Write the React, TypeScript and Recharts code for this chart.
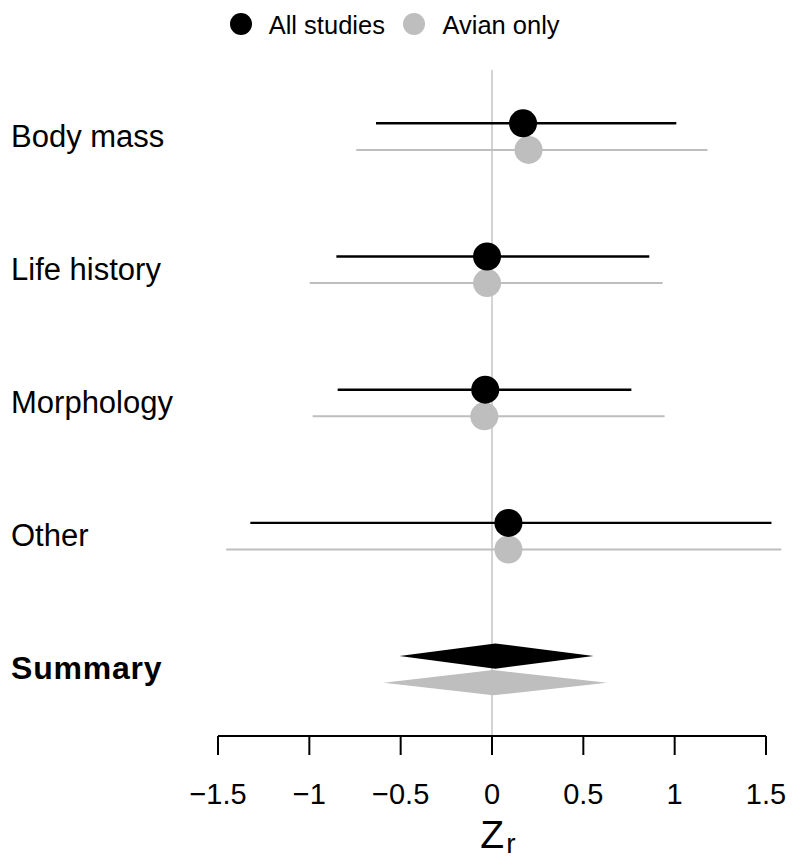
import React from 'react';
import {
  ScatterChart,
  Scatter,
  XAxis,
  YAxis,
  ReferenceLine,
  ReferenceArea,
  Legend,
  Label,
} from 'recharts';

// ---------- data ----------
const categories = ['Body mass', 'Life history', 'Morphology', 'Other'];
const summaryLabel = 'Summary';
const seriesNames = ['All studies', 'Avian only'];

const allEst = [0.17, -0.027, -0.037, 0.09];
const allLo = [-0.635, -0.852, -0.845, -1.323];
const allHi = [1.009, 0.861, 0.763, 1.53];

const avianEst = [0.2, -0.027, -0.042, 0.09];
const avianLo = [-0.743, -0.998, -0.982, -1.455];
const avianHi = [1.18, 0.934, 0.945, 1.584];

// summary diamonds: [All studies, Avian only]
const summaryEst = [0.018, 0.007];
const summaryLo = [-0.506, -0.593];
const summaryHi = [0.556, 0.63];

const xTicks = [-1.5, -1, -0.5, 0, 0.5, 1, 1.5];

// ---------- styles / layout ----------
const FONT = '"Liberation Sans", Arial, Helvetica, sans-serif';
const COLORS = ['#000000', '#bebebe'];
const ROW_OFFSET = 0.2; // avian row shift (in row units)
const DIAMOND_HALF = 0.095;
const Y_DOMAIN: [number, number] = [-0.4, 4.6];
const W = 784;
const H = 852;

const rowLabels = [...categories, summaryLabel];
const summaryRow = categories.length;

const allData = categories.map((c, i) => ({ name: c, x: allEst[i], y: i, lo: allLo[i], hi: allHi[i] }));
const avianData = categories.map((c, i) => ({
  name: c,
  x: avianEst[i],
  y: i + ROW_OFFSET,
  lo: avianLo[i],
  hi: avianHi[i],
}));
const seriesData = [allData, avianData];
const summaryData = summaryEst.map((e, i) => ({
  est: e,
  lo: summaryLo[i],
  hi: summaryHi[i],
  y: summaryRow + i * ROW_OFFSET,
}));
const yTicks = rowLabels.map((_, i) => i + ROW_OFFSET / 2);

const fmt = (v: number) => (v < 0 ? '\u2212' + Math.abs(v) : String(v));

const RowTick = (props: any) => {
  const { y, payload } = props;
  const idx = Math.round(payload.value - ROW_OFFSET / 2);
  const bold = idx === summaryRow;
  return (
    <text
      x={3}
      y={y}
      dy={10}
      fontSize={bold ? 32 : 31}
      fontFamily={FONT}
      fontWeight={bold ? 'bold' : 'normal'}
      letterSpacing={bold ? 0.8 : 0}
      fill="#000"
      textAnchor="start"
    >
      {rowLabels[idx]}
    </text>
  );
};

const Dot = (color: string) => (p: any) => <circle cx={p.cx} cy={p.cy} r={14} fill={color} />;

const makeDiamond = (frac: number, color: string) => (p: any) => {
  const { x, y, width, height } = p;
  const cx = x + width * frac;
  const cy = y + height / 2;
  const d = `M${x},${cy} L${cx},${y} L${x + width},${cy} L${cx},${y + height} Z`;
  return <path d={d} fill={color} stroke="none" />;
};

const ZeroLineShape = (p: any) => {
  const { x, y, width, height } = p;
  const cx = x + width / 2;
  return <line x1={cx} y1={y} x2={cx} y2={y + height} stroke="#d3d3d3" strokeWidth={2} />;
};

const AxisTitle = (props: any) => {
  const vb = props.viewBox || {};
  const cx = vb.x + vb.width / 2;
  return (
    <text x={cx - 11.7} y={vb.y + 112} fontFamily={FONT} fill="#000" textAnchor="start">
      <tspan fontSize={39}>Z</tspan>
      <tspan fontSize={28} dx={2} dy={5}>
        r
      </tspan>
    </text>
  );
};

const LegendContent = () => (
  <div
    style={{
      display: 'flex',
      alignItems: 'center',
      height: 31,
      paddingLeft: 221.7,
      fontFamily: FONT,
      fontSize: 25.5,
      color: '#000',
    }}
  >
    {seriesNames.map((n, i) => (
      <div key={n} style={{ display: 'flex', alignItems: 'center', marginRight: 18.5 }}>
        <svg width={22} height={22} style={{ marginRight: 17, display: 'block' }}>
          <circle cx={11} cy={11} r={11} fill={COLORS[i]} />
        </svg>
        <span style={{ position: 'relative', top: 1.5, whiteSpace: 'nowrap' }}>{n}</span>
      </div>
    ))}
  </div>
);

export default function App() {
  return (
    <ScatterChart
      width={W}
      height={H}
      margin={{ top: 62, right: 26, bottom: 0, left: 0 }}
      style={{ fontFamily: FONT }}
    >
      <XAxis
        type="number"
        dataKey="x"
        domain={[-1.5, 1.5]}
        ticks={xTicks}
        interval={0}
        tickFormatter={fmt}
        tickSize={19}
        tickMargin={28}
        height={124}
        axisLine={{ stroke: '#000', strokeWidth: 2 }}
        tickLine={{ stroke: '#000', strokeWidth: 2 }}
        tick={{ fontSize: 29, fill: '#000', fontFamily: FONT }}
      >
        <Label content={<AxisTitle />} />
      </XAxis>
      <YAxis
        type="number"
        dataKey="y"
        domain={Y_DOMAIN}
        reversed
        allowDataOverflow
        ticks={yTicks}
        interval={0}
        width={210}
        axisLine={false}
        tickLine={false}
        tick={<RowTick />}
      />
      <Legend
        layout="horizontal"
        verticalAlign="middle"
        align="center"
        wrapperStyle={{ top: 0, left: 0, width: W }}
        content={<LegendContent />}
      />
      <ReferenceArea
        x1={0}
        x2={0}
        y1={Y_DOMAIN[0]}
        y2={Y_DOMAIN[1]}
        ifOverflow="visible"
        shape={ZeroLineShape}
      />
      {summaryData.map((d, i) => (
        <ReferenceArea
          key={`dia-${i}`}
          x1={d.lo}
          x2={d.hi}
          y1={d.y - DIAMOND_HALF}
          y2={d.y + DIAMOND_HALF}
          ifOverflow="visible"
          shape={makeDiamond((d.est - d.lo) / (d.hi - d.lo), COLORS[i])}
        />
      ))}
      {[1, 0].map((s) =>
        seriesData[s].map((d, i) => (
          <ReferenceLine
            key={`seg-${s}-${i}`}
            segment={[
              { x: d.lo, y: d.y },
              { x: d.hi, y: d.y },
            ]}
            stroke={COLORS[s]}
            strokeWidth={s === 0 ? 2.4 : 2}
            ifOverflow="visible"
          />
        ))
      )}
      <Scatter
        name={seriesNames[1]}
        data={avianData}
        fill={COLORS[1]}
        shape={Dot(COLORS[1])}
        isAnimationActive={false}
      />
      <Scatter
        name={seriesNames[0]}
        data={allData}
        fill={COLORS[0]}
        shape={Dot(COLORS[0])}
        isAnimationActive={false}
      />
    </ScatterChart>
  );
}
